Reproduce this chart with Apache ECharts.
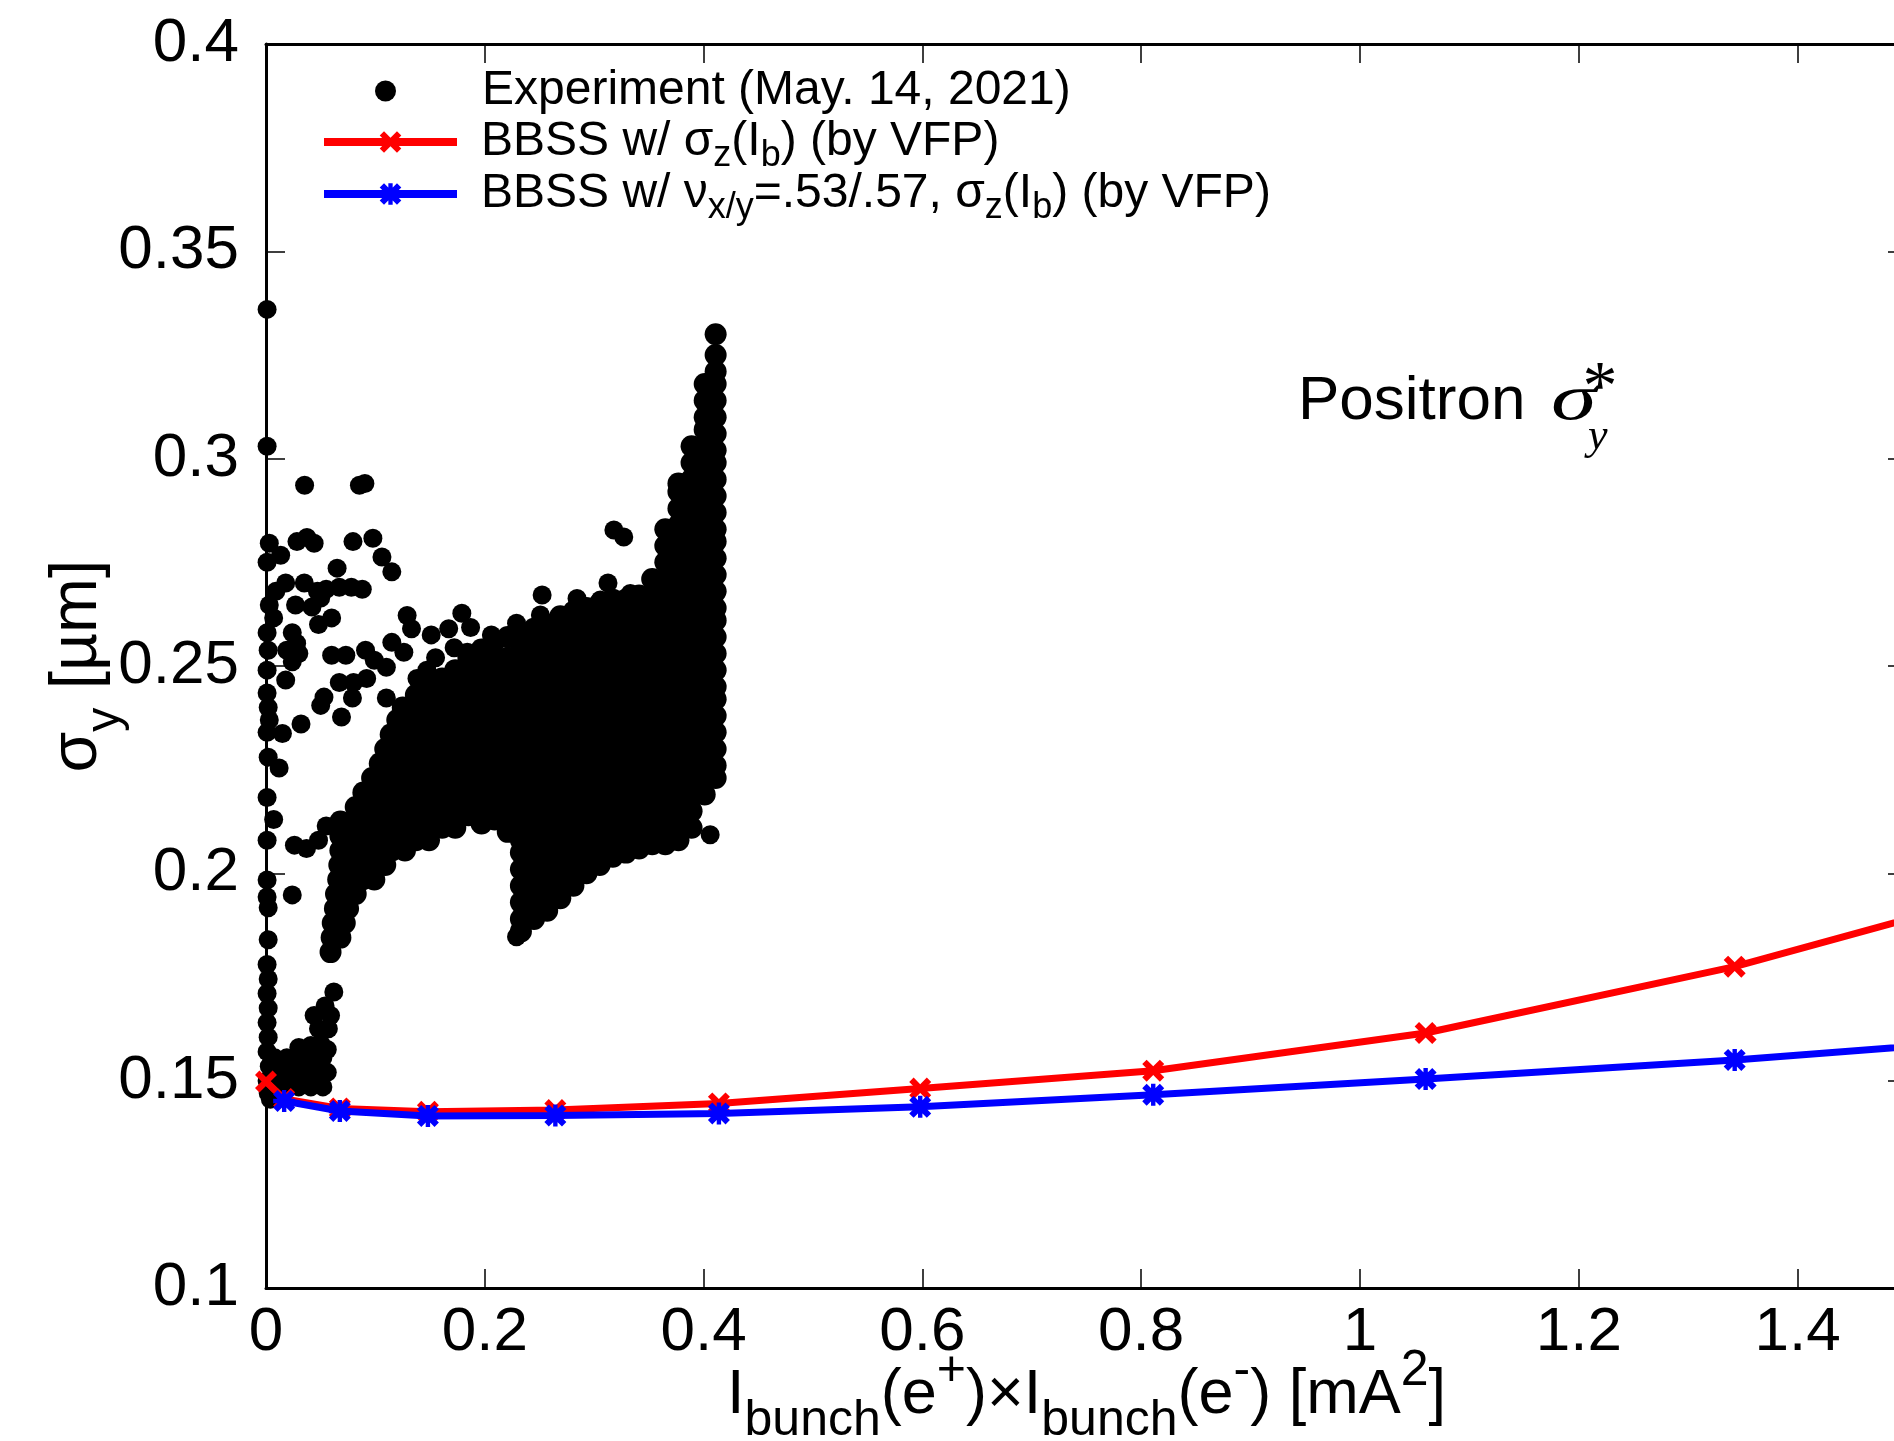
<!DOCTYPE html>
<html>
<head>
<meta charset="utf-8">
<script src="https://cdn.jsdelivr.net/npm/echarts@6/dist/echarts.min.js"></script>
<style>html,body{margin:0;padding:0;background:#fff}#c{width:1894px;height:1441px}</style>
</head>
<body>
<div id="c"></div>
<script>
// ---- simulation curves (x = Ib(e+) x Ib(e-) [mA^2], y = sigma_y [um]) ----
const simRedX = [0, 0.0166, 0.0675, 0.148, 0.2645, 0.414, 0.598, 0.811, 1.060, 1.3425, 1.66];
const simRedY = [0.1498, 0.1456, 0.1433, 0.1425, 0.1429, 0.1445, 0.1481, 0.1524, 0.1615, 0.1775, 0.2005];
const simBlueX = [0.0166, 0.0675, 0.148, 0.2645, 0.414, 0.598, 0.811, 1.060, 1.3425, 1.66];
const simBlueY = [0.1451, 0.1427, 0.1415, 0.1416, 0.1421, 0.1437, 0.1466, 0.1504, 0.1550, 0.1614];

// ---- experiment points ----
const expAxis = [[0.001,0.336],[0.001,0.303],[0.003,0.2796],[0.001,0.275],[0.003,0.2647],[0.007,0.2616],[0.001,0.258],[0.002,0.2538],[0.001,0.249],[0.001,0.2435],[0.002,0.240],[0.003,0.237],[0.001,0.234],[0.002,0.228],[0.001,0.2183],[0.001,0.208],[0.001,0.1984],[0.001,0.1943],[0.002,0.1917],[0.002,0.184],[0.001,0.178],[0.002,0.1745],[0.001,0.171],[0.002,0.1675],[0.001,0.164],[0.002,0.1605],[0.001,0.157],[0.003,0.1535],[0.001,0.150],[0.002,0.147],[0.004,0.1455]];
const expLow = [[0.008,0.1485],[0.019,0.1485],[0.030,0.1485],[0.041,0.1485],[0.052,0.1485],[0.013,0.152],[0.024,0.152],[0.035,0.152],[0.046,0.152],[0.056,0.152],[0.008,0.1555],[0.019,0.1555],[0.030,0.1555],[0.041,0.1555],[0.052,0.1555],[0.030,0.158],[0.041,0.1585],[0.050,0.159],[0.056,0.1575],[0.048,0.1625],[0.057,0.1625],[0.044,0.1657],[0.059,0.1657],[0.054,0.168]];
const expSparse = [[0.0353,0.2936],[0.0854,0.2936],[0.0904,0.294],[0.0134,0.2767],[0.0283,0.280],[0.0374,0.281],[0.044,0.2796],[0.0795,0.280],[0.0977,0.2808],[0.106,0.2763],[0.115,0.2727],[0.065,0.2736],[0.018,0.270],[0.009,0.268],[0.035,0.270],[0.047,0.268],[0.055,0.2685],[0.067,0.269],[0.078,0.269],[0.088,0.2685],[0.027,0.2647],[0.042,0.2642],[0.050,0.2664],[0.060,0.2616],[0.048,0.260],[0.024,0.258],[0.028,0.2555],[0.019,0.2538],[0.030,0.253],[0.024,0.251],[0.018,0.2466],[0.060,0.2526],[0.073,0.2526],[0.091,0.2538],[0.115,0.2557],[0.126,0.2533],[0.099,0.2514],[0.110,0.2497],[0.067,0.246],[0.080,0.246],[0.092,0.247],[0.053,0.2425],[0.079,0.2423],[0.110,0.2423],[0.129,0.2622],[0.133,0.259],[0.151,0.2575],[0.167,0.259],[0.179,0.2627],[0.187,0.2593],[0.172,0.2544],[0.184,0.2533],[0.206,0.2575],[0.155,0.252],[0.147,0.249],[0.138,0.247],[0.015,0.2337],[0.032,0.236],[0.012,0.2254],[0.007,0.213],[0.069,0.2377],[0.050,0.2405],[0.026,0.2068],[0.037,0.206],[0.048,0.208],[0.024,0.1948],[0.055,0.2114],[0.068,0.2116],[0.062,0.1714],[0.2524,0.2671],[0.2508,0.2623],[0.2843,0.2663],[0.3126,0.270],[0.333,0.2675],[0.229,0.2603],[0.281,0.2635],[0.3056,0.2659],[0.322,0.2603],[0.318,0.2828],[0.327,0.2811],[0.406,0.2093],[0.229,0.1847]];
// band rows of the dense cloud: [y, x1, x2, ...]
const expBandRows = [
[0.1810,0.059],
[0.1845,0.060,0.068],
[0.1880,0.061,0.072],
[0.1915,0.063,0.075],
[0.1950,0.064,0.070,0.082],
[0.1985,0.066,0.076,0.088,0.099],
[0.2020,0.067,0.073,0.085,0.097,0.109],
[0.2055,0.068,0.079,0.091,0.103,0.115,0.127],
[0.2090,0.068,0.073,0.085,0.097,0.109,0.121],
[0.2125,0.068,0.079,0.091,0.103,0.115],
[0.2160,0.082,0.091,0.103,0.115],
[0.2195,0.089,0.097,0.109,0.121],
[0.2230,0.097,0.103,0.115],
[0.2265,0.104,0.109,0.121],
[0.2300,0.109,0.115],
[0.2335,0.114,0.121],
[0.2370,0.120]
];
// dense block columns: [x, y1, y2, ...]
const expBlobCols = [
[0.125,0.206,0.210,0.214,0.217,0.221,0.225,0.229,0.233,0.236,0.240],
[0.137,0.208,0.212,0.216,0.219,0.223,0.227,0.231,0.235,0.239,0.243],
[0.149,0.208,0.212,0.216,0.220,0.223,0.227,0.231,0.235,0.239,0.242,0.245],
[0.161,0.211,0.215,0.219,0.222,0.226,0.230,0.234,0.238,0.241,0.245,0.247],
[0.173,0.211,0.215,0.219,0.223,0.226,0.230,0.234,0.238,0.242,0.245,0.249],
[0.185,0.214,0.218,0.222,0.226,0.229,0.233,0.237,0.241,0.245,0.248,0.252],
[0.197,0.212,0.215,0.219,0.223,0.227,0.231,0.234,0.238,0.242,0.246,0.250,0.254],
[0.209,0.213,0.217,0.221,0.225,0.229,0.232,0.236,0.240,0.244,0.248,0.252,0.256],
[0.221,0.210,0.214,0.218,0.222,0.225,0.229,0.233,0.237,0.241,0.244,0.248,0.252,0.257],
[0.233,0.186,0.189,0.193,0.197,0.201,0.205,0.208,0.212,0.216,0.220,0.224,0.227,0.231,0.235,0.239,0.243,0.246,0.250,0.254,0.258],
[0.245,0.189,0.192,0.196,0.200,0.204,0.208,0.212,0.215,0.219,0.223,0.227,0.231,0.234,0.238,0.242,0.246,0.250,0.253,0.257,0.259],
[0.257,0.191,0.194,0.198,0.202,0.206,0.210,0.213,0.217,0.221,0.225,0.229,0.232,0.236,0.240,0.244,0.248,0.251,0.255,0.260],
[0.269,0.194,0.197,0.201,0.205,0.209,0.213,0.216,0.220,0.224,0.228,0.232,0.235,0.239,0.243,0.247,0.251,0.254,0.258,0.262],
[0.281,0.197,0.200,0.204,0.208,0.212,0.216,0.219,0.223,0.227,0.231,0.235,0.238,0.242,0.246,0.250,0.254,0.257,0.261,0.263],
[0.293,0.200,0.204,0.208,0.212,0.215,0.219,0.223,0.227,0.231,0.234,0.238,0.242,0.246,0.250,0.253,0.257,0.261,0.264],
[0.305,0.202,0.205,0.209,0.213,0.217,0.221,0.224,0.228,0.232,0.236,0.240,0.243,0.247,0.251,0.255,0.259,0.262,0.265],
[0.317,0.204,0.207,0.211,0.215,0.219,0.223,0.226,0.230,0.234,0.238,0.242,0.245,0.249,0.253,0.257,0.261,0.264,0.266],
[0.329,0.205,0.208,0.212,0.216,0.220,0.224,0.227,0.231,0.235,0.239,0.243,0.246,0.250,0.254,0.258,0.262,0.266],
[0.341,0.206,0.210,0.214,0.217,0.221,0.225,0.229,0.233,0.236,0.240,0.244,0.248,0.252,0.255,0.259,0.263,0.267],
[0.353,0.207,0.210,0.214,0.218,0.222,0.226,0.229,0.233,0.237,0.241,0.245,0.248,0.252,0.256,0.260,0.264,0.267,0.271],
[0.365,0.207,0.210,0.214,0.218,0.222,0.226,0.230,0.233,0.237,0.241,0.245,0.249,0.252,0.256,0.260,0.264,0.268,0.271,0.275,0.279,0.283],
[0.377,0.208,0.212,0.216,0.220,0.223,0.227,0.231,0.235,0.239,0.242,0.246,0.250,0.254,0.258,0.261,0.265,0.269,0.273,0.277,0.280,0.284,0.288,0.292,0.294],
[0.389,0.211,0.215,0.219,0.223,0.226,0.230,0.234,0.238,0.242,0.245,0.249,0.253,0.257,0.261,0.264,0.268,0.272,0.276,0.280,0.283,0.287,0.291,0.295,0.299,0.303],
[0.401,0.219,0.223,0.227,0.231,0.234,0.238,0.242,0.246,0.250,0.253,0.257,0.261,0.265,0.269,0.272,0.276,0.280,0.284,0.288,0.291,0.295,0.299,0.303,0.307,0.310,0.314,0.318],
[0.411,0.223,0.226,0.230,0.234,0.238,0.242,0.245,0.249,0.253,0.257,0.261,0.264,0.268,0.272,0.276,0.280,0.283,0.287,0.291,0.295,0.299,0.302,0.306,0.310,0.314,0.318,0.321,0.325,0.330]
];

const xTickStep = 0.2, yTickStep = 0.05;
const nameExp = 'Experiment (May. 14, 2021)';
const nameRed = 'BBSS w/ σz(Ib) (by VFP)';
const nameBlue = 'BBSS w/ νx/y=.53/.57, σz(Ib) (by VFP)';

const expSparseData = [].concat(expAxis, expLow, expSparse);
const expDenseData = [].concat(
  expBandRows.flatMap(r => r.slice(1).map(x => [x, r[0]])),
  expBlobCols.flatMap(c => c.slice(1).map(y => [c[0], y]))
);
const redData = simRedX.map((x, i) => [x, simRedY[i]]);
const blueData = simBlueX.map((x, i) => [x, simBlueY[i]]);

const FONT = '"Liberation Sans", Arial, Helvetica, sans-serif';
const SERIF = '"Liberation Serif", "Times New Roman", serif';
const crossPath = 'path://M0,2L2,0L5,3L8,0L10,2L7,5L10,8L8,10L5,7L2,10L0,8L3,5Z';
const starPath = 'path://M0,2L2,0L5,3L8,0L10,2L7,5L10,8L8,10L5,7L2,10L0,8L3,5Z M4,0L6,0L6,4L10,4L10,6L6,6L6,10L4,10L4,6L0,6L0,4L4,4Z';

const legendRich = {
  sp: {width: 19},
  sp1: {width: 81},
  t: {fontSize: 48, fontFamily: FONT, color: '#000', lineHeight: 64, verticalAlign: 'middle'},
  sub: {fontSize: 36, fontFamily: FONT, color: '#000', lineHeight: 30, verticalAlign: 'bottom'}
};
const legendText = {};
legendText[nameExp] = '{sp1|}{t|Experiment (May. 14, 2021)}';
legendText[nameRed] = '{sp|}{t|BBSS w/ σ}{sub|z}{t|(I}{sub|b}{t|) (by VFP)}';
legendText[nameBlue] = '{sp|}{t|BBSS w/ ν}{sub|x/y}{t|=.53/.57, σ}{sub|z}{t|(I}{sub|b}{t|) (by VFP)}';

function mkLegend(name, left, top, iw, ih) {
  return {
    data: [name], left: left, top: top, padding: 0, orient: 'vertical',
    itemWidth: iw, itemHeight: ih, selectedMode: false,
    lineStyle: {width: 8},
    formatter: n => legendText[n],
    textStyle: {rich: legendRich}
  };
}

const axisCommon = {
  type: 'value',
  axisLine: {show: true, onZero: false, lineStyle: {color: '#000', width: 3}},
  axisTick: {show: true, inside: true, length: 19, lineStyle: {color: '#000', width: 1.5}},
  splitLine: {show: false}
};

const option = {
  animation: false,
  backgroundColor: '#fff',
  grid: {left: 266, top: 44, width: 1641, height: 1244, containLabel: false, outerBoundsMode: 'none'},
  xAxis: [
    Object.assign({}, axisCommon, {
      position: 'bottom', min: 0, max: 1.5, interval: xTickStep,
      axisLabel: {margin: 14, fontSize: 62, fontFamily: FONT, color: '#000', showMaxLabel: false},
      name: '{m|I}{sub|bunch}{m|(e}{sup|+}{m|)×I}{sub|bunch}{m|(e}{sup|-}{m|) [mA}{sup|2}{m|]}',
      nameLocation: 'middle', nameGap: 58, nameMoveOverlap: false,
      nameTextStyle: {rich: {
        m: {fontSize: 63, fontFamily: FONT, color: '#000', lineHeight: 100, verticalAlign: 'middle'},
        sub: {fontSize: 50, fontFamily: FONT, color: '#000', verticalAlign: 'bottom'},
        sup: {fontSize: 50, fontFamily: FONT, color: '#000', verticalAlign: 'top'}
      }}
    }),
    Object.assign({}, axisCommon, {
      position: 'top', min: 0, max: 1.5, interval: xTickStep,
      axisLabel: {show: false}
    })
  ],
  yAxis: [
    Object.assign({}, axisCommon, {
      position: 'left', min: 0.1, max: 0.4, interval: yTickStep,
      axisLabel: {margin: 27, fontSize: 62, fontFamily: FONT, color: '#000',
        formatter: v => String(+v.toFixed(2))},
      name: '{m|σ}{sub|y}{m| [µm]}',
      nameLocation: 'middle', nameGap: 136, nameRotate: 90, nameMoveOverlap: false,
      nameTextStyle: {rich: {
        m: {fontSize: 66, fontFamily: FONT, color: '#000', lineHeight: 104, verticalAlign: 'middle'},
        sub: {fontSize: 48, fontFamily: FONT, color: '#000', verticalAlign: 'bottom'}
      }}
    }),
    Object.assign({}, axisCommon, {
      position: 'right', min: 0.1, max: 0.4, interval: yTickStep,
      axisLabel: {show: false}
    })
  ],
  legend: [
    mkLegend(nameExp, 375, 67, 21, 21),
    mkLegend(nameRed, 320, 118, 133, 27),
    mkLegend(nameBlue, 320, 170, 133, 27)
  ],
  graphic: [
    {type: 'text', x: 1298, y: 402, silent: true,
     style: {text: 'Positron', fontSize: 62, fontFamily: FONT, fill: '#000', verticalAlign: 'middle', align: 'left'}},
    {type: 'text', x: 1551, y: 402, scaleX: 1.4, silent: true,
     style: {text: 'σ', fontSize: 66, fontFamily: SERIF, fontStyle: 'italic', fill: '#000', verticalAlign: 'middle', align: 'left'}},
    {type: 'text', x: 1588, y: 437, silent: true,
     style: {text: 'y', fontSize: 44, fontFamily: SERIF, fontStyle: 'italic', fill: '#000', verticalAlign: 'middle', align: 'left'}},
    {type: 'text', x: 1600, y: 391, silent: true,
     style: {text: '*', fontSize: 70, fontFamily: SERIF, fill: '#000', verticalAlign: 'middle', align: 'center'}}
  ],
  series: [
    {name: nameExp, type: 'scatter', xAxisIndex: 0, yAxisIndex: 0,
     symbol: 'circle', symbolSize: 19, itemStyle: {color: '#000', opacity: 1},
     data: expSparseData, z: 2},
    {name: nameExp, type: 'scatter', xAxisIndex: 0, yAxisIndex: 0,
     symbol: 'circle', symbolSize: 22, itemStyle: {color: '#000', opacity: 1},
     data: expDenseData, z: 2},
    {name: nameRed, type: 'line', xAxisIndex: 0, yAxisIndex: 0,
     symbol: crossPath, symbolSize: 22, showSymbol: true, clip: true,
     lineStyle: {color: '#ff0000', width: 7}, itemStyle: {color: '#ff0000'},
     data: redData, z: 3},
    {name: nameBlue, type: 'line', xAxisIndex: 0, yAxisIndex: 0,
     symbol: starPath, symbolSize: 22, showSymbol: true, clip: true,
     lineStyle: {color: '#0000ff', width: 7}, itemStyle: {color: '#0000ff'},
     data: blueData, z: 4}
  ]
};

const chart = echarts.init(document.getElementById('c'), null, {renderer: 'canvas'});
chart.setOption(option);
</script>
</body>
</html>
